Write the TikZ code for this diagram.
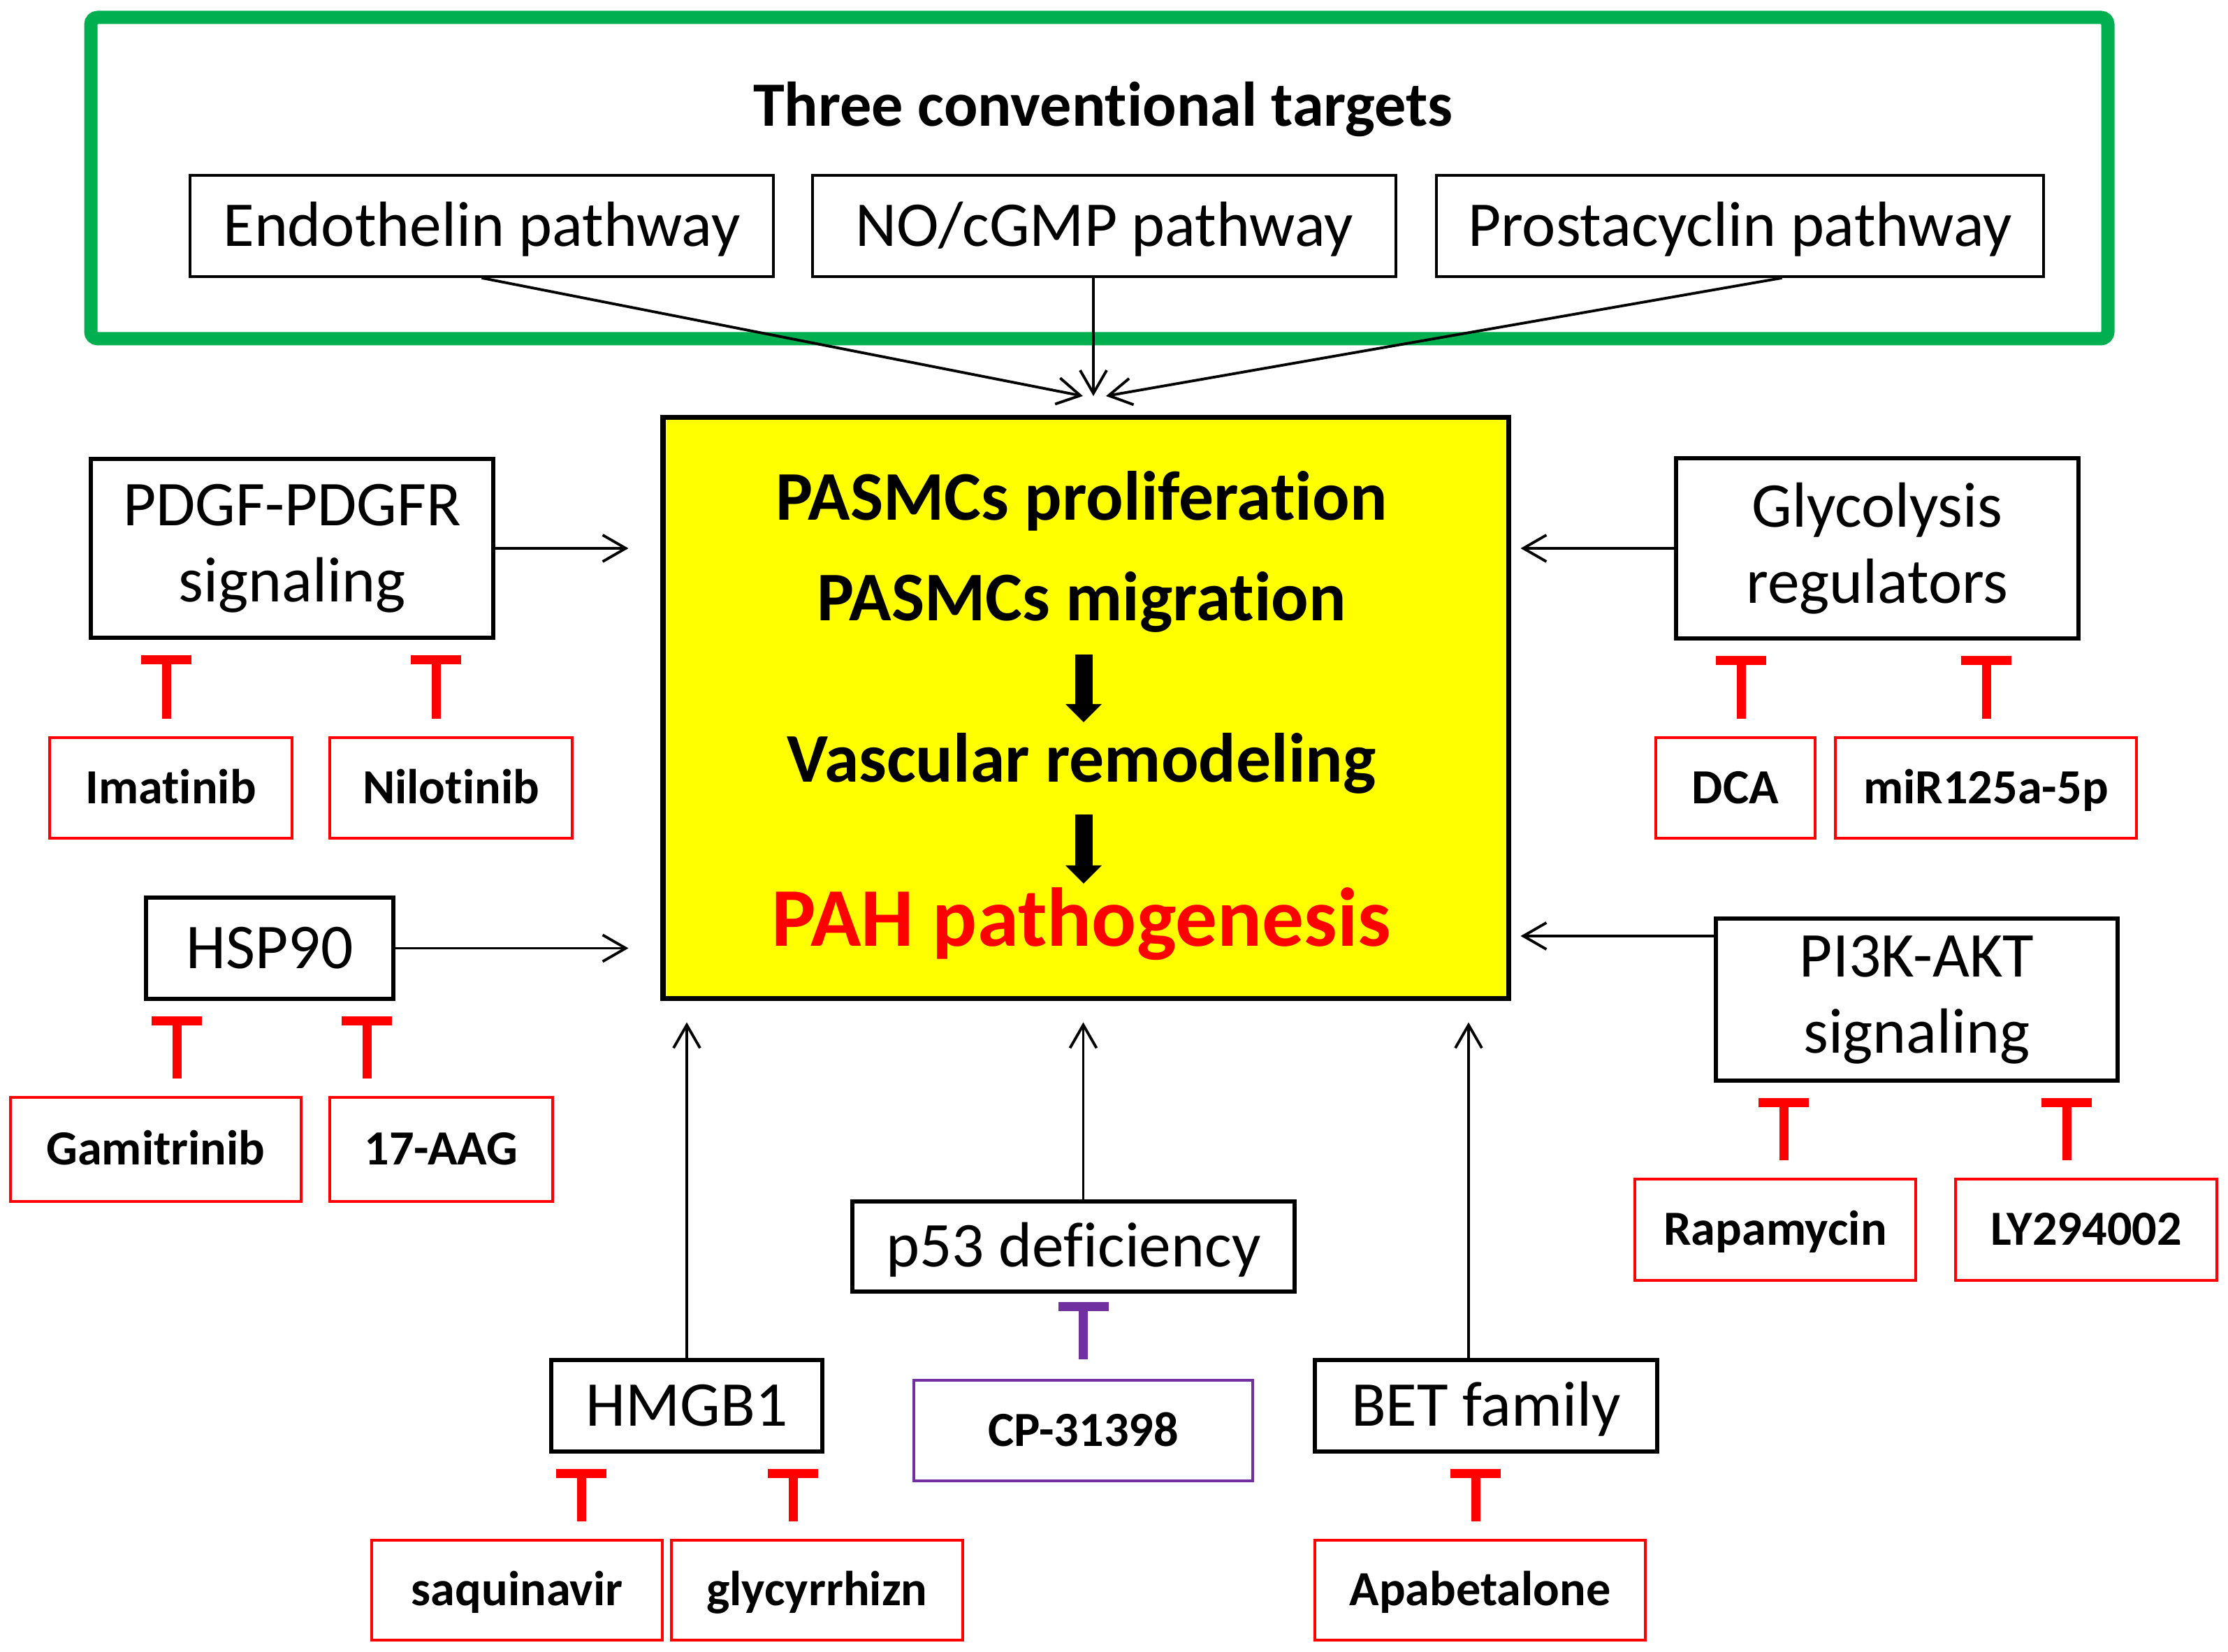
\documentclass[tikz,border=0pt]{standalone}
\usepackage{fontspec}
\setmainfont{Carlito}[Ligatures=NoCommon]
\usetikzlibrary{arrows.meta}
\definecolor{framegreen}{RGB}{0,176,80}
\definecolor{cppurple}{RGB}{112,48,160}
\definecolor{coreyellow}{RGB}{255,255,0}

\begin{document}
\begin{tikzpicture}[>={Straight Barb[length=0.33cm,width=0.38cm]},
box/.style = {draw, line width=1.7pt, inner sep=0pt, align=center,
font=\fontsize{26}{31}\selectfont},
oneline/.style = {text height=0.62cm, text depth=0.03cm},
drug/.style = {draw=red, line width=1.1pt, inner sep=0pt, minimum height=1.44cm,
text height=0.45cm, text depth=0cm, font=\bfseries\fontsize{20}{24}\selectfont},
feeds/.style = {->, line width=1.1pt},
inhibit/.style = {red, line width=0.13cm, -{Bar[width=0.72cm]},
shorten >=0.22cm, shorten <=0.25cm},
fat/.style = {line width=0.25cm, -{Triangle[length=0.26cm,width=0.5cm]}},
core/.style = {anchor=base, font=\bfseries\fontsize{28.4}{34}\selectfont}]
\useasboundingbox (0,0) rectangle (31.89,23.65);

% three conventional targets
\node [draw=framegreen, line width=0.19cm, rounded corners=0.1cm,
minimum width=28.87cm, minimum height=4.60cm] (frame) at (15.735,21.10) {};
\node [anchor=base, font=\bfseries\fontsize{25.7}{30}\selectfont] (title)
at (15.79,21.84) {Three conventional targets};
\node [box, oneline, line width=1.1pt, minimum width=8.35cm, minimum height=1.45cm]
(endo) at (6.895,20.415) {Endothelin pathway};
\node [box, oneline, line width=1.1pt, minimum width=8.35cm, minimum height=1.45cm]
(nocgmp) at (15.805,20.415) {NO/cGMP pathway};
\node [box, oneline, line width=1.1pt, minimum width=8.69cm, minimum height=1.45cm]
(prosta) at (24.905,20.415) {Prostacyclin pathway};

% central box
\node [draw, fill=coreyellow, line width=2pt, minimum width=12.10cm, minimum height=8.32cm]
(pasmc) at (15.54,13.51) {};
\node [core] (prolif) at (15.48,16.20) {PASMCs proliferation};
\node [core] (migr) at (15.48,14.76) {PASMCs migration};
\node [core] (vasc) at (15.48,12.45) {Vascular remodeling};
\node [core, red, font=\bfseries\fontsize{34}{40}\selectfont] (pah) at (15.48,10.10)
{PAH pathogenesis};
\draw [fat] ([xshift=0.03cm,yshift=-0.48cm]migr.base) -- ([xshift=0.03cm,yshift=0.86cm]vasc.base);
\draw [fat] ([xshift=0.03cm,yshift=-0.46cm]vasc.base) -- ([xshift=0.03cm,yshift=0.90cm]pah.base);

% signaling boxes
\node [box, minimum width=5.76cm, minimum height=2.56cm] (pdgf) at (4.18,15.80)
{PDGF-PDGFR\\signaling};
\node [box, minimum width=5.76cm, minimum height=2.58cm] (glyco) at (26.87,15.80)
{Glycolysis\\regulators};
\node [box, oneline, minimum width=3.54cm, minimum height=1.45cm] (hsp) at (3.86,10.075)
{HSP90};
\node [box, minimum width=5.75cm, minimum height=2.32cm] (pik) at (27.435,9.34)
{PI3K-AKT\\signaling};
\node [box, oneline, minimum width=3.88cm, minimum height=1.31cm] (hmgb) at (9.83,3.525)
{HMGB1};
\node [box, oneline, minimum width=6.33cm, minimum height=1.29cm] (ppp) at (15.365,5.805)
{p53 deficiency};
\node [box, oneline, minimum width=4.90cm, minimum height=1.31cm] (bet) at (21.27,3.525)
{BET family};

% drugs
\node [drug, minimum width=3.47cm] (imat) at (2.445,12.37) {Imatinib};
\node [drug, minimum width=3.47cm] (nilo) at (6.455,12.37) {Nilotinib};
\node [drug, minimum width=2.28cm] (dca) at (24.84,12.37) {DCA};
\node [drug, minimum width=4.31cm] (mir) at (28.425,12.37) {miR125a-5p};
\node [drug, minimum width=4.16cm, minimum height=1.49cm] (gami) at (2.23,7.195) {Gamitrinib};
\node [drug, minimum width=3.19cm, minimum height=1.49cm] (aag) at (6.315,7.195) {17-AAG};
\node [drug, minimum width=4.02cm, minimum height=1.45cm] (rapa) at (25.41,6.045) {Rapamycin};
\node [drug, minimum width=3.74cm, minimum height=1.45cm] (ly) at (29.86,6.045) {LY294002};
\node [drug, minimum width=4.16cm, minimum height=1.43cm] (saq) at (7.40,0.885) {saquinavir};
\node [drug, minimum width=4.17cm, minimum height=1.43cm] (glyz) at (11.695,0.885) {glycyrrhizn};
\node [drug, draw=cppurple, minimum width=4.85cm] (cp) at (15.505,3.17) {CP-31398};
\node [drug, minimum width=4.73cm, minimum height=1.43cm] (apa) at (21.185,0.885) {Apabetalone};

% activation
\coordinate (meet) at (15.65,17.98);
\coordinate (pikin) at ([yshift=-0.28cm]pik.north west);
\coordinate (betup) at ([xshift=-0.25cm]bet.north);
\path [feeds]
(endo.south) edge ([xshift=-0.15cm]meet)
(nocgmp.south -| meet) edge (meet)
([xshift=0.6cm]prosta.south) edge ([xshift=0.18cm]meet)
(pdgf.east) edge [shorten >=0.46cm] (pdgf.east -| pasmc.west)
(hsp.east) edge [shorten >=0.46cm] (hsp.east -| pasmc.west)
(glyco.west) edge [shorten >=0.14cm] (glyco.west -| pasmc.east)
(pikin) edge [shorten >=0.14cm] (pikin -| pasmc.east)
(hmgb.north) edge [shorten >=0.30cm] (hmgb.north |- pasmc.south)
(cp |- ppp.north) edge [shorten >=0.30cm] (cp |- pasmc.south)
(betup) edge [shorten >=0.30cm] (betup |- pasmc.south);

% inhibition
\draw [inhibit] (imat.north -| 2.38,0) -- (pdgf.south -| 2.38,0);
\draw [inhibit] (nilo.north -| 6.24,0) -- (pdgf.south -| 6.24,0);
\draw [inhibit] (dca.north -| 24.92,0) -- (glyco.south -| 24.92,0);
\draw [inhibit] (mir.north -| 28.43,0) -- (glyco.south -| 28.43,0);
\draw [inhibit] (gami.north -| 2.53,0) -- (hsp.south -| 2.53,0);
\draw [inhibit] (aag.north -| 5.25,0) -- (hsp.south -| 5.25,0);
\draw [inhibit] (rapa.north -| 25.53,0) -- (pik.south -| 25.53,0);
\draw [inhibit] (ly.north -| 29.58,0) -- (pik.south -| 29.58,0);
\draw [inhibit] (saq.north -| 8.32,0) -- (hmgb.south -| 8.32,0);
\draw [inhibit] (glyz.north -| 11.35,0) -- (hmgb.south -| 11.35,0);
\draw [inhibit, cppurple, shorten >=0.12cm, shorten <=0.28cm] (cp.north) -- (cp |- ppp.south);
\draw [inhibit] (apa.north -| 21.12,0) -- (bet.south -| 21.12,0);
\end{tikzpicture}
\end{document}
